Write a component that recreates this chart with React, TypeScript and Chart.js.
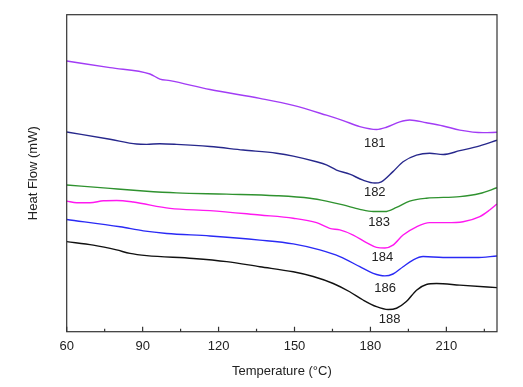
import React, { useEffect, useRef } from "react";
import { Chart, registerables } from "chart.js";

Chart.register(...registerables);

// Temperature (°C) / heat flow (arbitrary units, offset curves)
const purpleT = [60, 77.1, 92.9, 96.8, 100.8, 116.6, 136.3, 149.5, 162.6, 169.2, 175.8, 182.4, 186.3, 191.6, 195.5, 202.1, 208.7, 215.3, 224.5, 230];
const purpleH = [85.4, 83.3, 81.3, 79.7, 79.2, 76.4, 73.6, 71.4, 68.3, 66.6, 64.7, 63.8, 64.5, 66.2, 66.8, 65.9, 64.9, 63.6, 62.8, 62.9];

const navyT = [60, 77.1, 87.6, 91.6, 96.8, 103.4, 116.6, 129.7, 142.9, 149.5, 158.7, 162.6, 166.6, 171.8, 177.1, 181.7, 184.3, 188.9, 192.9, 198.2, 203.4, 208.7, 215.3, 223.2, 230];
const navyH = [63.0, 60.7, 59.2, 59.1, 59.3, 59.1, 58.4, 57.3, 56.3, 55.4, 53.6, 52.6, 51.0, 49.7, 47.8, 46.9, 47.3, 50.5, 53.6, 55.7, 56.3, 55.9, 57.1, 58.6, 60.4];

const greenT = [60, 77.1, 90.3, 103.4, 123.2, 142.9, 156.1, 162.6, 169.2, 175.8, 181.1, 185.7, 190.3, 195.5, 202.1, 215.3, 223.2, 230];
const greenH = [46.3, 45.2, 44.4, 43.8, 43.4, 42.9, 42.1, 41.2, 40.0, 38.6, 37.9, 37.9, 39.2, 41.2, 42.1, 42.6, 43.6, 45.4];

const magentaT = [60, 64.0, 69.2, 74.5, 79.7, 86.3, 100.8, 116.6, 136.3, 149.5, 158.7, 163.9, 167.9, 173.2, 178.4, 182.4, 185.7, 188.9, 192.9, 198.2, 203.4, 210.0, 216.6, 223.2, 227.1, 230];
const magentaH = [41.2, 40.7, 40.7, 41.3, 41.4, 40.9, 38.9, 38.2, 36.8, 35.8, 34.4, 32.6, 32.1, 30.5, 28.1, 26.6, 26.4, 27.3, 30.5, 33.1, 34.4, 34.4, 34.7, 36.3, 38.4, 40.3];

const blueT = [60, 81.1, 90.3, 99.5, 116.6, 136.3, 149.5, 160.0, 167.9, 175.8, 181.1, 185.7, 188.9, 192.9, 196.8, 200.8, 208.7, 221.8, 230];
const blueH = [35.4, 33.1, 31.8, 31.0, 30.2, 28.9, 27.7, 25.8, 23.7, 20.5, 18.4, 17.6, 18.2, 20.5, 22.6, 23.7, 23.4, 23.4, 23.9];

const blackT = [60, 70.5, 79.7, 85.0, 91.6, 110.0, 123.2, 136.3, 149.5, 157.4, 165.3, 171.8, 177.1, 182.4, 187.0, 190.3, 194.2, 198.2, 202.1, 206.1, 215.3, 230];
const blackH = [28.4, 27.3, 25.8, 24.7, 24.0, 23.1, 22.1, 20.5, 18.9, 17.4, 15.2, 12.6, 10.0, 7.9, 7.0, 7.4, 9.5, 13.1, 14.9, 15.2, 14.7, 13.9];

// Peak annotations
const peakLabels = ["181", "182", "183", "184", "186", "188"];
const peakLabelT = [181.7, 181.7, 183.4, 184.7, 185.8, 187.6];
const peakLabelH = [59.4, 43.8, 34.4, 23.4, 13.7, 3.9];

const xTicks = [60, 90, 120, 150, 180, 210];
const xMinorTicks = [75, 105, 135, 165, 195, 225];

const series = [
  { t: purpleT, h: purpleH, color: "#a23cf5" },
  { t: navyT, h: navyH, color: "#27288c" },
  { t: greenT, h: greenH, color: "#2f922f" },
  { t: magentaT, h: magentaH, color: "#ff18f0" },
  { t: blueT, h: blueH, color: "#2a2af5" },
  { t: blackT, h: blackH, color: "#111111" },
];

const FONT = "'Liberation Sans', Arial, sans-serif";

const framePlugin = {
  id: "frame",
  afterDraw(chart: any) {
    const { ctx, chartArea, scales } = chart;
    const xs = scales.x;
    const ys = scales.y;
    ctx.save();
    ctx.strokeStyle = "#333";
    ctx.lineWidth = 1.2;
    ctx.strokeRect(chartArea.left, chartArea.top, chartArea.right - chartArea.left, chartArea.bottom - chartArea.top);
    ctx.beginPath();
    xTicks.forEach((v) => {
      const px = xs.getPixelForValue(v);
      ctx.moveTo(px, chartArea.bottom);
      ctx.lineTo(px, chartArea.bottom - 5);
    });
    xMinorTicks.forEach((v) => {
      const px = xs.getPixelForValue(v);
      ctx.moveTo(px, chartArea.bottom);
      ctx.lineTo(px, chartArea.bottom - 3);
    });
    ctx.stroke();
    ctx.fillStyle = "#222";
    ctx.font = "13px " + FONT;
    ctx.textAlign = "center";
    ctx.textBaseline = "middle";
    peakLabels.forEach((lab, i) => {
      ctx.fillText(lab, xs.getPixelForValue(peakLabelT[i]), ys.getPixelForValue(peakLabelH[i]));
    });
    ctx.restore();
  },
};

export default function App() {
  const ref = useRef<HTMLCanvasElement>(null);
  useEffect(() => {
    document.body.style.margin = "0";
    const chart = new Chart(ref.current!, {
      type: "line",
      data: {
        datasets: series.map((s) => ({
          data: s.t.map((t, i) => ({ x: t, y: s.h[i] })),
          borderColor: s.color,
          borderWidth: 1.4,
          pointRadius: 0,
          fill: false,
          cubicInterpolationMode: "monotone" as const,
        })),
      },
      options: {
        animation: false,
        responsive: false,
        layout: { padding: { left: 26, right: 26, top: 14.7, bottom: 8 } },
        plugins: { legend: { display: false }, tooltip: { enabled: false } },
        scales: {
          x: {
            type: "linear",
            min: 60,
            max: 230,
            afterBuildTicks: (axis: any) => {
              axis.ticks = xTicks.map((v) => ({ value: v }));
            },
            afterFit: (axis: any) => {
              axis.height = 387 - 8 - 331.7;
            },
            grid: { display: false, drawTicks: false },
            border: { display: false },
            ticks: { color: "#222", font: { family: FONT, size: 13 }, padding: 7, maxRotation: 0 },
            title: { display: true, text: "Temperature (°C)", color: "#222", font: { family: FONT, size: 13 }, padding: 0 },
          },
          y: {
            type: "linear",
            min: 0,
            max: 100,
            afterFit: (axis: any) => {
              axis.width = 66.7 - 26;
            },
            grid: { display: false, drawTicks: false },
            border: { display: false },
            ticks: { display: false },
            title: { display: true, text: "Heat Flow (mW)", color: "#222", font: { family: FONT, size: 13 }, padding: 0 },
          },
        },
      },
      plugins: [framePlugin],
    });
    return () => chart.destroy();
  }, []);
  return (
    <div style={{ width: 523, height: 387 }}>
      <canvas ref={ref} width={523} height={387} style={{ display: "block" }} />
    </div>
  );
}
